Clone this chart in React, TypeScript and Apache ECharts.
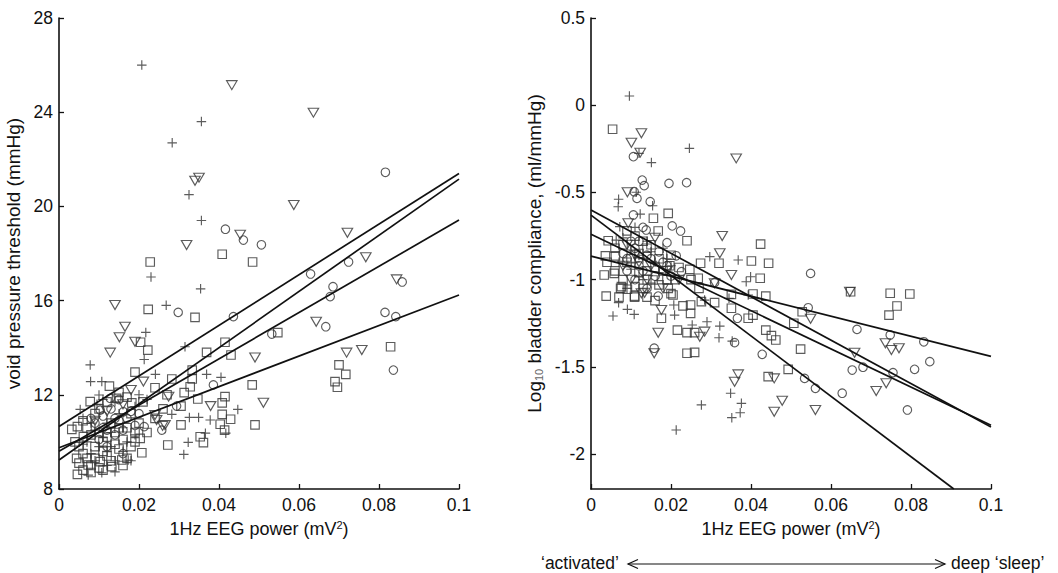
import React, { useEffect, useRef } from 'react';
import * as echarts from 'echarts';

const FONT = '"Liberation Sans", Arial, sans-serif';

// ---------- Left panel: void pressure threshold (mmHg) vs 1Hz EEG power ----------
const leftPlus = [
  [0.0207, 26.0], [0.0283, 22.7], [0.0356, 23.6], [0.0325, 20.5], [0.0356, 19.4], [0.023, 17.0],
  [0.0354, 16.5], [0.0268, 15.8], [0.0217, 14.65], [0.0213, 13.5], [0.0241, 12.87], [0.0315, 14.04],
  [0.0369, 12.87], [0.0405, 12.74], [0.0447, 11.38], [0.0366, 10.37], [0.0417, 10.37], [0.0323, 9.98],
  [0.0312, 9.47], [0.0326, 11.04], [0.0349, 11.04], [0.0378, 10.93], [0.0078, 13.27], [0.0079, 12.56],
  [0.0107, 12.56], [0.01, 11.99], [0.0053, 11.38], [0.0282, 11.17], [0.0173, 9.23], [0.014, 8.73],
  [0.0073, 8.59], [0.0107, 8.69], [0.006, 11.0], [0.009, 10.5], [0.011, 10.2], [0.013, 9.8],
  [0.008, 9.5], [0.012, 10.8], [0.015, 11.2], [0.017, 10.0], [0.019, 11.5], [0.007, 10.0],
  [0.014, 9.2], [0.0095, 11.6], [0.02, 12.0], [0.022, 11.8], [0.016, 9.6], [0.012, 9.0],
  [0.008, 10.8], [0.01, 9.8], [0.012, 9.6], [0.013, 10.4], [0.016, 10.6], [0.018, 9.2],
  [0.011, 11.8], [0.014, 11.7], [0.009, 9.2], [0.019, 10.3], [0.006, 9.9],
];
const leftTriangle = [
  [0.0432, 25.15], [0.0636, 23.98], [0.035, 21.22], [0.034, 21.09], [0.0587, 20.06], [0.0453, 18.8],
  [0.0319, 18.36], [0.0721, 18.88], [0.0767, 17.84], [0.0844, 16.9], [0.014, 15.81], [0.0165, 14.89],
  [0.0151, 14.44], [0.0128, 13.79], [0.019, 14.25], [0.0211, 12.56], [0.0274, 11.92], [0.024, 11.14],
  [0.0259, 10.68], [0.0379, 11.52], [0.049, 13.58], [0.0511, 11.66], [0.0643, 15.1], [0.0719, 13.79],
  [0.0757, 13.9], [0.0244, 10.93], [0.0265, 10.72], [0.012, 11.3], [0.016, 11.6], [0.009, 10.9],
  [0.018, 12.2],
];
const leftCircle = [
  [0.0816, 21.45], [0.0416, 19.03], [0.0461, 18.57], [0.0506, 18.37], [0.0724, 17.64], [0.0629, 17.13],
  [0.0858, 16.79], [0.0685, 16.59], [0.0678, 16.17], [0.0298, 15.5], [0.0436, 15.32], [0.0532, 14.58],
  [0.0667, 14.89], [0.0815, 15.5], [0.0842, 15.32], [0.0836, 13.05], [0.0386, 12.42], [0.0294, 11.52],
  [0.0257, 10.5], [0.0213, 10.65], [0.0103, 11.35], [0.0128, 11.85], [0.0161, 11.28], [0.009, 10.8],
  [0.012, 10.5], [0.015, 10.9], [0.011, 11.1], [0.014, 10.3], [0.017, 11.0], [0.008, 11.0],
  [0.013, 11.4], [0.019, 10.7], [0.016, 9.5], [0.01, 10.1], [0.012, 9.8], [0.014, 11.0],
  [0.016, 10.5], [0.018, 11.3], [0.011, 10.6], [0.015, 11.8], [0.02, 11.2],
];
const leftSquare = [
  [0.0228, 17.64], [0.0408, 17.97], [0.0484, 17.64], [0.0223, 15.63], [0.034, 15.29], [0.0204, 14.23],
  [0.0222, 13.9], [0.0415, 14.23], [0.0369, 13.8], [0.043, 13.69], [0.0547, 14.64], [0.0829, 14.04],
  [0.07, 13.27], [0.0717, 12.87], [0.069, 12.56], [0.0696, 12.32], [0.019, 12.96], [0.0282, 12.67],
  [0.0333, 13.05], [0.0333, 12.67], [0.0328, 12.34], [0.0313, 12.09], [0.0347, 11.82], [0.0483, 12.42],
  [0.0415, 11.92], [0.0408, 11.66], [0.0305, 11.52], [0.0408, 11.17], [0.0429, 10.96], [0.0305, 10.72],
  [0.0403, 10.75], [0.0414, 10.5], [0.049, 10.72], [0.0353, 10.22], [0.0361, 9.97], [0.0272, 9.87],
  [0.0207, 9.54], [0.0126, 12.37], [0.0144, 11.85], [0.0182, 11.66], [0.0032, 10.53], [0.0046, 10.65],
  [0.0044, 9.3], [0.0046, 8.62], [0.0073, 9.02], [0.0103, 9.16], [0.0132, 8.95], [0.0157, 9.23],
  [0.019, 10.0], [0.0203, 10.15], [0.0078, 11.71], [0.0061, 10.22], [0.006, 9.5], [0.008, 9.0],
  [0.009, 9.8], [0.011, 10.0], [0.012, 9.4], [0.014, 10.4], [0.016, 10.1], [0.018, 9.8],
  [0.005, 9.1], [0.007, 10.6], [0.01, 10.4], [0.013, 10.8], [0.015, 9.7], [0.017, 9.3],
  [0.019, 10.4], [0.021, 11.7], [0.024, 11.0], [0.027, 12.0], [0.009, 11.2], [0.011, 8.8],
  [0.006, 8.8], [0.004, 10.0], [0.005, 9.8], [0.007, 9.3], [0.008, 8.7], [0.009, 9.3],
  [0.01, 8.9], [0.011, 9.6], [0.012, 10.2], [0.013, 9.2], [0.014, 9.9], [0.015, 10.6],
  [0.016, 9.0], [0.017, 10.6], [0.018, 11.2], [0.02, 10.8], [0.022, 10.4], [0.008, 10.3],
  [0.006, 10.9], [0.01, 11.4], [0.012, 11.7], [0.015, 12.1], [0.017, 11.9], [0.024, 12.3],
  [0.026, 11.4],
];
const leftFits = [
  [[0, 10.65], [0.1, 21.4]],
  [[0, 9.23], [0.1, 21.16]],
  [[0, 9.6], [0.1, 19.42]],
  [[0, 9.75], [0.1, 16.24]],
];

// ---------- Right panel: Log10 bladder compliance vs 1Hz EEG power ----------
const rightPlus = [
  [0.0096, 0.053], [0.0246, -0.247], [0.0151, -0.329], [0.012, -0.276], [0.0069, -0.539], [0.0068, -0.582],
  [0.0154, -0.576], [0.0123, -0.624], [0.0113, -0.499], [0.0368, -0.887], [0.0297, -0.868], [0.0399, -0.983],
  [0.0388, -1.012], [0.0072, -0.696], [0.0063, -0.773], [0.0055, -1.208], [0.0069, -1.132], [0.0091, -1.17],
  [0.0108, -1.199], [0.0209, -1.203], [0.0207, -1.145], [0.0253, -1.26], [0.029, -1.241], [0.0322, -1.266],
  [0.032, -1.333], [0.0353, -1.352], [0.0349, -1.651], [0.0376, -1.709], [0.0373, -1.763], [0.0352, -1.791],
  [0.0276, -1.718], [0.0213, -1.862], [0.0393, -1.088], [0.0345, -1.107], [0.0284, -1.117], [0.007, -0.9],
  [0.01, -0.83], [0.012, -0.98], [0.014, -0.78], [0.016, -0.9], [0.018, -0.82], [0.009, -1.05],
  [0.013, -0.88], [0.02, -0.92], [0.015, -1.02], [0.011, -0.7], [0.008, -0.76], [0.01, -0.94],
  [0.012, -0.86], [0.015, -0.84], [0.017, -0.96], [0.019, -0.88], [0.013, -1.0], [0.011, -0.9],
];
const rightTriangle = [
  [0.0126, -0.161], [0.0101, -0.215], [0.0123, -0.272], [0.0363, -0.305], [0.0091, -0.499], [0.0328, -0.75],
  [0.0322, -0.849], [0.0309, -1.021], [0.0351, -0.973], [0.0134, -1.075], [0.0647, -1.069], [0.0093, -0.677],
  [0.0176, -1.174], [0.0168, -1.304], [0.0272, -1.327], [0.0284, -1.298], [0.0158, -1.422], [0.0368, -1.543],
  [0.0359, -1.585], [0.0458, -1.566], [0.0478, -1.694], [0.0458, -1.757], [0.0561, -1.747], [0.0549, -1.224],
  [0.0659, -1.419], [0.0736, -1.365], [0.0751, -1.403], [0.077, -1.393], [0.0738, -1.594], [0.0713, -1.638],
  [0.0126, -1.078], [0.009, -0.8], [0.012, -0.9], [0.014, -1.0], [0.016, -0.76], [0.019, -0.95],
  [0.022, -1.0], [0.01, -1.0], [0.011, -0.86], [0.015, -0.92], [0.018, -1.05], [0.008, -0.92],
];
const rightCircle = [
  [0.0106, -0.295], [0.0128, -0.429], [0.0133, -0.461], [0.0108, -0.496], [0.0115, -0.534], [0.0148, -0.553],
  [0.0195, -0.448], [0.0239, -0.444], [0.0106, -0.629], [0.0203, -0.692], [0.0224, -0.721], [0.019, -0.788],
  [0.0213, -0.863], [0.0226, -0.954], [0.0549, -0.964], [0.0138, -0.715], [0.0168, -1.094], [0.0158, -1.393],
  [0.0359, -1.361], [0.0366, -1.221], [0.0428, -1.428], [0.0543, -1.161], [0.0534, -1.566], [0.0561, -1.623],
  [0.0628, -1.651], [0.0665, -1.285], [0.0653, -1.518], [0.068, -1.502], [0.0748, -1.317], [0.0755, -1.533],
  [0.0809, -1.514], [0.0832, -1.356], [0.0847, -1.47], [0.0791, -1.747], [0.0309, -1.017], [0.008, -0.85],
  [0.01, -0.78], [0.012, -0.92], [0.014, -0.86], [0.016, -0.98], [0.018, -0.9], [0.011, -1.0],
  [0.013, -0.7], [0.02, -0.98], [0.009, -0.95], [0.009, -0.88], [0.011, -0.82], [0.013, -0.95],
  [0.015, -0.88], [0.017, -0.84], [0.019, -0.92], [0.012, -0.78], [0.014, -1.05],
];
const rightSquare = [
  [0.0054, -0.138], [0.0193, -0.62], [0.0156, -0.648], [0.0168, -0.721], [0.024, -0.777], [0.0424, -0.796],
  [0.0043, -0.777], [0.0036, -0.864], [0.0061, -0.864], [0.0033, -0.973], [0.0058, -0.964], [0.0274, -0.906],
  [0.032, -0.906], [0.0401, -0.893], [0.0444, -0.906], [0.0423, -0.992], [0.0247, -0.941], [0.0197, -0.92],
  [0.0268, -0.992], [0.0076, -1.04], [0.0748, -1.078], [0.0797, -1.082], [0.0038, -1.094], [0.0109, -1.094],
  [0.0155, -1.002], [0.0437, -1.094], [0.0074, -1.05], [0.0109, -1.101], [0.0176, -1.221], [0.0216, -1.289],
  [0.024, -1.304], [0.0259, -1.304], [0.024, -1.422], [0.0259, -1.417], [0.0249, -1.145], [0.0249, -1.193],
  [0.0276, -1.126], [0.0309, -1.132], [0.0351, -1.164], [0.0351, -1.084], [0.0393, -1.221], [0.0405, -1.203],
  [0.0405, -1.082], [0.0437, -1.289], [0.0451, -1.321], [0.0462, -1.346], [0.0443, -1.556], [0.0493, -1.514],
  [0.0507, -1.25], [0.0524, -1.398], [0.0528, -1.184], [0.0649, -1.069], [0.0765, -1.151], [0.0745, -1.203],
  [0.0091, -1.055], [0.0193, -1.05], [0.0205, -1.088], [0.006, -0.82], [0.009, -0.9], [0.012, -0.85],
  [0.014, -0.95], [0.017, -0.88], [0.019, -1.0], [0.022, -0.93], [0.008, -1.0], [0.011, -0.75],
  [0.015, -0.8], [0.02, -1.08], [0.023, -1.15], [0.013, -1.05], [0.016, -1.12], [0.027, -1.05],
  [0.004, -0.9], [0.006, -0.95], [0.008, -0.8], [0.01, -0.88], [0.012, -0.96], [0.014, -0.82],
  [0.016, -0.93], [0.018, -0.95], [0.02, -0.86], [0.007, -1.1], [0.011, -1.04], [0.014, -1.1],
  [0.017, -1.03], [0.021, -1.0], [0.025, -1.0], [0.009, -0.72], [0.013, -0.78],
];
const rightFits = [
  [[0, -0.6], [0.1, -1.845]],
  [[0, -0.63], [0.0907, -2.2]],
  [[0, -0.74], [0.1, -1.835]],
  [[0, -0.865], [0.1, -1.44]],
];

const xTicks = [0, 0.02, 0.04, 0.06, 0.08, 0.1];
const leftYTicks = [8, 12, 16, 20, 24, 28];
const rightYTicks = [-2, -1.5, -1, -0.5, 0, 0.5];

const PLUS = 'path://M0,5L10,5M5,0L5,10';
const TRI = 'path://M0,0L10,0L5,8.7Z';
const MARK = '#333333';
const INK = '#111';

function scatter(data: number[][], symbol: string, size: number | number[], idx: number) {
  return {
    type: 'scatter',
    data,
    symbol,
    symbolSize: size,
    xAxisIndex: idx,
    yAxisIndex: idx,
    silent: true,
    z: 2,
    itemStyle: { color: 'rgba(0,0,0,0)', borderColor: MARK, borderWidth: 1.15 },
  };
}

function fit(data: number[][], idx: number) {
  return {
    type: 'line',
    data,
    xAxisIndex: idx,
    yAxisIndex: idx,
    symbol: 'none',
    silent: true,
    z: 3,
    lineStyle: { color: INK, width: 1.7 },
  };
}

const axisBase = {
  type: 'value',
  axisLine: { show: true, onZero: false, lineStyle: { color: INK, width: 1.6 } },
  axisTick: { show: true, inside: true, length: 5, lineStyle: { color: INK, width: 1.3 } },
  splitLine: { show: false },
  axisLabel: { color: INK, fontSize: 17.5, fontFamily: FONT },
};

const xName = '{a|1Hz EEG power (mV}{s|2}{a|)}';
const xNameStyle = {
  rich: {
    a: { fontSize: 18, fontFamily: FONT, color: INK },
    s: { fontSize: 11, fontFamily: FONT, color: INK, padding: [0, 0, 9, 0] },
  },
};

export default function App() {
  const ref = useRef<HTMLDivElement>(null);

  useEffect(() => {
    if (!ref.current) return;
    const chart = echarts.init(ref.current, null, { renderer: 'svg' });
    const option = {
      animation: false,
      backgroundColor: '#ffffff',
      grid: [
        { left: 59, top: 18, width: 400, height: 471 },
        { left: 591, top: 18, width: 400, height: 471 },
      ],
      xAxis: [
        {
          ...axisBase,
          gridIndex: 0,
          min: 0,
          max: 0.1,
          axisLabel: { ...axisBase.axisLabel, margin: 7, customValues: xTicks },
          axisTick: { ...axisBase.axisTick, customValues: xTicks },
          name: xName,
          nameLocation: 'middle',
          nameGap: 30,
          nameTextStyle: xNameStyle,
        },
        {
          ...axisBase,
          gridIndex: 1,
          min: 0,
          max: 0.1,
          axisLabel: { ...axisBase.axisLabel, margin: 7, customValues: xTicks },
          axisTick: { ...axisBase.axisTick, customValues: xTicks },
          name: xName,
          nameLocation: 'middle',
          nameGap: 30,
          nameTextStyle: xNameStyle,
        },
      ],
      yAxis: [
        {
          ...axisBase,
          gridIndex: 0,
          min: 8,
          max: 28,
          axisLabel: { ...axisBase.axisLabel, margin: 6, customValues: leftYTicks },
          axisTick: { ...axisBase.axisTick, customValues: leftYTicks },
          name: 'void pressure threshold (mmHg)',
          nameLocation: 'middle',
          nameRotate: 90,
          nameGap: 36,
          nameTextStyle: { fontSize: 19, fontFamily: FONT, color: INK },
        },
        {
          ...axisBase,
          gridIndex: 1,
          min: -2.2,
          max: 0.5,
          axisLabel: { ...axisBase.axisLabel, margin: 6, customValues: rightYTicks },
          axisTick: { ...axisBase.axisTick, customValues: rightYTicks },
          name: '{a|Log}{s|10}{a| bladder compliance, (ml/mmHg)}',
          nameLocation: 'middle',
          nameRotate: 90,
          nameGap: 47,
          nameTextStyle: {
            rich: {
              a: { fontSize: 19, fontFamily: FONT, color: INK },
              s: { fontSize: 11, fontFamily: FONT, color: '#666', padding: [9, 0, 0, 0] },
            },
          },
        },
      ],
      series: [
        scatter(leftSquare, 'rect', 8.5, 0),
        scatter(leftCircle, 'circle', 8.5, 0),
        scatter(leftTriangle, TRI, [10.5, 9], 0),
        scatter(leftPlus, PLUS, 9.5, 0),
        ...leftFits.map((d) => fit(d, 0)),
        scatter(rightSquare, 'rect', 8.5, 1),
        scatter(rightCircle, 'circle', 8.5, 1),
        scatter(rightTriangle, TRI, [10.5, 9], 1),
        scatter(rightPlus, PLUS, 9.5, 1),
        ...rightFits.map((d) => fit(d, 1)),
      ],
      graphic: [
        {
          type: 'text',
          left: 541,
          top: 554,
          style: { text: '\u2018activated\u2019', fontSize: 17.5, fontFamily: FONT, fill: INK },
        },
        {
          type: 'text',
          left: 951,
          top: 554,
          style: { text: 'deep \u2018sleep\u2019', fontSize: 17.5, fontFamily: FONT, fill: INK },
        },
        {
          type: 'line',
          shape: { x1: 628, y1: 564, x2: 945, y2: 564 },
          style: { stroke: INK, lineWidth: 1.2 },
        },
        {
          type: 'polyline',
          shape: { points: [[638, 559.5], [628, 564], [638, 568.5]] },
          style: { stroke: INK, lineWidth: 1.2, fill: null },
        },
        {
          type: 'polyline',
          shape: { points: [[935, 559.5], [945, 564], [935, 568.5]] },
          style: { stroke: INK, lineWidth: 1.2, fill: null },
        },
      ],
    };
    chart.setOption(option as any);
    return () => chart.dispose();
  }, []);

  return (
    <div
      ref={ref}
      style={{ position: 'fixed', left: 0, top: 0, width: 1058, height: 573, background: '#fff' }}
    />
  );
}
